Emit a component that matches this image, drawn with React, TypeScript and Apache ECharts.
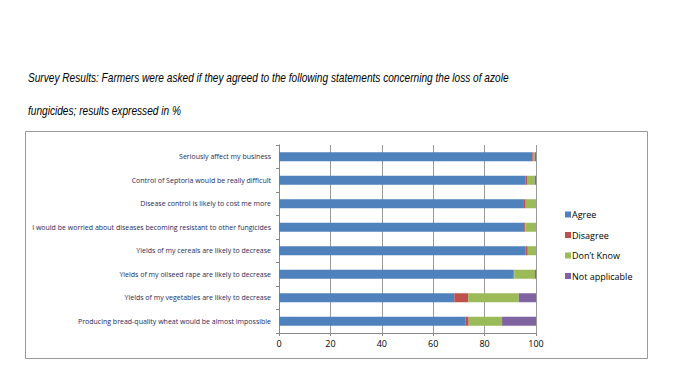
import React, { useEffect, useRef } from "react";
import * as echarts from "echarts";

const categories = [
  "Seriously affect my business",
  "Control of Septoria would be really difficult",
  "Disease control is likely to cost me more",
  "I would be worried about diseases becoming resistant to other fungicides",
  "Yields of my cereals are likely to decrease",
  "Yields of my oilseed rape are likely to decrease",
  "Yields of my vegetables are likely to decrease",
  "Producing bread-quality wheat would be almost impossible",
];
const agree = [98.5, 96.0, 95.3, 95.4, 96.0, 91.3, 68.2, 72.5];
const disagree = [0.3, 0.5, 0.7, 0.4, 0.8, 0.2, 5.4, 1.3];
const dontKnow = [0.7, 3.0, 4.0, 4.2, 3.2, 8.1, 19.7, 13.0];
const notApplicable = [0.5, 0.5, 0, 0, 0, 0.4, 6.7, 13.2];
const seriesNames = ["Agree", "Disagree", "Don\u2019t Know", "Not applicable"];
const seriesData = [agree, disagree, dontKnow, notApplicable];
const colors = ["#4F81BD", "#C0504D", "#9BBB59", "#8064A2"];
const xTicks = { min: 0, max: 100, interval: 20 };
const titleLines = [
  "Survey Results: Farmers were asked if they agreed to the following statements concerning the loss of azole",
  "fungicides; results expressed in %",
];

export default function App() {
  const ref = useRef<HTMLDivElement>(null);
  useEffect(() => {
    const chart = echarts.init(ref.current!, null, { renderer: "svg" });
    chart.setOption({
      animation: false,
      backgroundColor: "#ffffff",
      graphic: [
        ...titleLines.map((t, i) => ({
          type: "text",
          x: 28,
          y: i === 0 ? 78 : 111,
          scaleX: 0.81,
          style: {
            text: t,
            fontFamily: "Liberation Sans",
            fontStyle: "italic",
            fontSize: 12.5,
            fill: "#000",
            textVerticalAlign: "middle",
            verticalAlign: "middle",
          },
        })),
        {
          type: "rect",
          shape: { x: 25.5, y: 131.5, width: 622, height: 227 },
          style: { fill: "none", stroke: "#999", lineWidth: 1 },
          z: -1,
        },
      ],
      legend: {
        orient: "vertical",
        left: 560,
        top: 205,
        itemWidth: 6,
        itemHeight: 6,
        itemGap: 11.5,
        icon: "rect",
        data: seriesNames,
        textStyle: { fontFamily: "Open Sans", fontSize: 9, color: "#000", padding: [0, 0, 0, -4] },
      },
      grid: { left: 279, right: 138, top: 145, bottom: 45 },
      xAxis: {
        type: "value",
        min: xTicks.min,
        max: xTicks.max,
        interval: xTicks.interval,
        axisLine: { show: true, lineStyle: { color: "#888" } },
        axisTick: { show: true, length: 3, lineStyle: { color: "#888" } },
        axisLabel: { fontFamily: "Open Sans", fontSize: 9, color: "#000", margin: 6 },
        splitLine: { show: true, lineStyle: { color: "#999", width: 1 } },
      },
      yAxis: {
        type: "category",
        inverse: true,
        data: categories,
        axisLine: { show: true, lineStyle: { color: "#888" } },
        axisTick: { show: true, length: 3, lineStyle: { color: "#888" } },
        axisLabel: { fontFamily: "Open Sans", fontSize: 7, color: "#1c2a5a", margin: 8 },
      },
      series: seriesData.map((d, i) => ({
        name: seriesNames[i],
        type: "bar",
        stack: "total",
        data: d,
        barWidth: 9,
        itemStyle: { color: colors[i] },
      })),
    });
    return () => chart.dispose();
  }, []);
  return (
    <div
      ref={ref}
      style={{ position: "fixed", left: 0, top: 0, width: 674, height: 378 }}
    />
  );
}
